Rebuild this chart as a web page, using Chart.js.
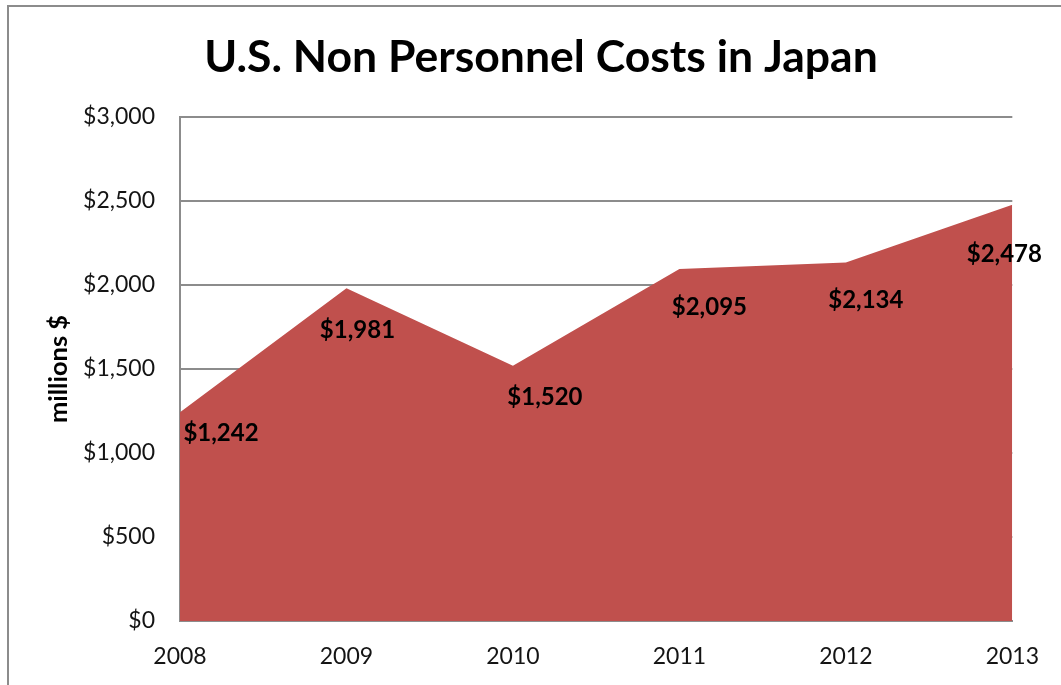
<!DOCTYPE html>
<html><head><meta charset="utf-8">
<script src="https://cdn.jsdelivr.net/npm/chart.js@4/dist/chart.umd.min.js"></script>
<style>
html,body{margin:0;padding:0;background:#fff;overflow:hidden;width:1061px;height:685px}
#frame{position:absolute;left:7px;top:5px;width:1100px;height:720px;border-top:2px solid #8c8c8c;border-left:2px solid #8c8c8c;box-sizing:border-box}
#wrap{position:absolute;left:0;top:0;width:1061px;height:685px}
</style></head><body>
<div id="frame"></div>
<div id="wrap"><canvas id="c" width="1061" height="685"></canvas></div>
<script>
const years = ['2008', '2009', '2010', '2011', '2012', '2013'];
const costs = [1242, 1981, 1520, 2095, 2134, 2478];
const yTickValues = [0, 500, 1000, 1500, 2000, 2500, 3000];
const chartTitle = 'U.S. Non Personnel Costs in Japan';
const yAxisTitle = 'millions $';

const FONT = 'Lato, "Open Sans", sans-serif';
const fmt = v => '$' + v.toLocaleString('en-US');
// label placement offsets (dx, dy) relative to each point, as in the reference
const labelOffsets = [[41, 21], [11, 42], [32, 32], [30, 38], [20, 38], [-8, 50]];

const labelPlugin = {
  id: 'pointLabels',
  afterDatasetsDraw(chart) {
    const ctx = chart.ctx;
    const meta = chart.getDatasetMeta(0);
    ctx.save();
    ctx.font = 'bold 24px ' + FONT;
    ctx.fillStyle = '#000';
    ctx.textAlign = 'center';
    ctx.textBaseline = 'middle';
    meta.data.forEach((pt, i) => {
      const [dx, dy] = labelOffsets[i];
      ctx.fillText(fmt(costs[i]), pt.x + dx, pt.y + dy);
    });
    ctx.restore();
  }
};

const titlePlugin = {
  id: 'bigTitle',
  afterDraw(chart) {
    const ctx = chart.ctx;
    ctx.save();
    ctx.font = 'bold 44.5px ' + FONT;
    ctx.fillStyle = '#000';
    ctx.textAlign = 'center';
    ctx.textBaseline = 'alphabetic';
    ctx.fillText(chartTitle, 541, 72);
    ctx.restore();
  }
};

new Chart(document.getElementById('c'), {
  type: 'line',
  data: {
    labels: years,
    datasets: [{
      data: costs,
      fill: 'origin',
      backgroundColor: '#C0504D',
      borderWidth: 0,
      borderColor: 'rgba(0,0,0,0)',
      pointRadius: 0,
      tension: 0
    }]
  },
  options: {
    responsive: false,
    animation: false,
    devicePixelRatio: 1,
    layout: { padding: { top: 117, right: 48, bottom: 0, left: 0 } },
    plugins: { legend: { display: false }, tooltip: { enabled: false }, title: { display: false } },
    scales: {
      x: {
        offset: false,
        grid: { display: false, drawTicks: false },
        border: { display: true, color: '#8c8c8c', width: 2 },
        ticks: { color: '#141414', font: { family: FONT, size: 23 }, padding: 22, maxRotation: 0, autoSkip: false },
        afterFit(s) { s.height = 64; }
      },
      y: {
        min: 0,
        max: 3000,
        afterBuildTicks(s) { s.ticks = yTickValues.map(v => ({ value: v })); },
        grid: { color: '#8c8c8c', lineWidth: 2, drawTicks: false },
        border: { display: true, color: '#8c8c8c', width: 2 },
        ticks: { color: '#141414', font: { family: FONT, size: 23 }, padding: 25, callback: v => fmt(v) },
        title: { display: true, text: yAxisTitle, color: '#000', font: { family: FONT, size: 25.5, weight: 'bold' }, padding: { top: 43, bottom: 0 } },
        afterFit(s) { s.width = 180; }
      }
    }
  },
  plugins: [labelPlugin, titlePlugin]
});
</script>
</body></html>
